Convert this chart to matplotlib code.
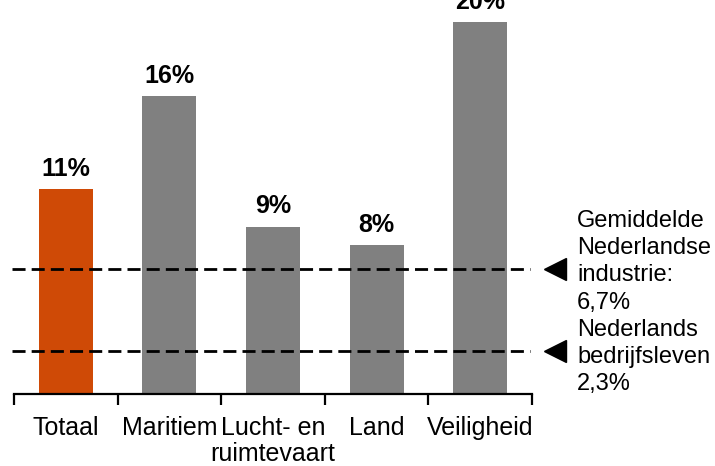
import matplotlib
matplotlib.use("Agg")
import matplotlib.pyplot as plt

plt.rcParams['font.family'] = ['Liberation Sans', 'DejaVu Sans']

# data
categories = ["Totaal", "Maritiem", "Lucht- en\nruimtevaart", "Land", "Veiligheid"]
values = [11, 16, 9, 8, 20]
bar_labels = ["11%", "16%", "9%", "8%", "20%"]
colors = ["#CF4A06", "#808080", "#808080", "#808080", "#808080"]
ref_values = [6.7, 2.3]
ref_text = "Gemiddelde\nNederlandse\nindustrie:\n6,7%\nNederlands\nbedrijfsleven\n2,3%"

fig = plt.figure(figsize=(7.15, 4.66), dpi=100)
ax = fig.add_axes([14 / 715, 72 / 466, 518 / 715, 394 / 466])

x = list(range(len(categories)))
ax.bar(x, values, width=0.52, color=colors)

for xi, v, lab in zip(x, values, bar_labels):
    ax.text(xi, v + 0.45, lab, ha='center', va='bottom', fontsize=18,
            fontweight='bold', clip_on=False)

# reference lines with arrow markers
for rv in ref_values:
    ax.plot([-0.52, 4.48], [rv, rv], color='black', lw=2, dashes=(4.7, 2.2),
            clip_on=False)
    ax.plot([4.72], [rv], marker='<', markersize=16, color='black',
            clip_on=False)

ax.text(1.087, 0.232, ref_text, transform=ax.transAxes, ha='left', va='center',
        fontsize=17, linespacing=1.3)

ax.set_xlim(-0.5, 4.5)
ax.set_ylim(0, 394 / 18.6)

ax.set_xticks(x)
ax.set_xticklabels(categories, fontsize=18, linespacing=1.1)
ax.set_xticks([i - 0.5 for i in range(len(categories) + 1)], minor=True)
ax.tick_params(axis='x', which='major', length=0, pad=16)
ax.tick_params(axis='x', which='minor', length=8, width=1.6, direction='out')
ax.set_yticks([])

for side in ['top', 'right', 'left']:
    ax.spines[side].set_visible(False)
ax.spines['bottom'].set_linewidth(1.6)

fig.savefig("out.png", dpi=100)
